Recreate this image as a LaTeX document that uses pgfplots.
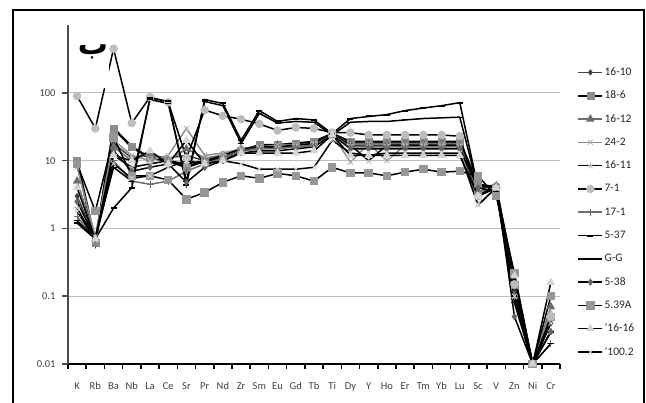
\documentclass[border=0pt]{standalone}
\usepackage{fontspec}
\setmainfont{Carlito}
\newfontfamily\arabicfont[Script=Arabic]{DejaVu Sans}
\usepackage{pgfplots}
\usepackage{pgfplotstable}
\pgfplotsset{compat=1.18}
\TeXXeTstate=1

% columns: 16-10, 18-6, 16-12, 24-2, 16-11, 7-1, 17-1, 5-37, G-G, 5-38, 5.39A, '16-16, '100.2
\pgfplotstableread{
x  sa   sb   sc   sd   se   sf   sg   sh   si   sj   sk   sl   sm
0  3    10   5    8    2    90   1.5  1.2  1.3  2.5  9    4    1.8
1  0.7  0.62 0.7  0.75 0.68 30   0.7  0.7  0.72 0.7  1.8  0.7  0.68
2  18   30   16   20   12   450  10   2    8    14   22   12   9
3  11   16   10   12   8    36   5    4    5    7    6    10   5.5
4  12   11   13   10   9    87   4.5  85   80   8    6    14   6
5  11   10   10   12   10   73   5    75   70   9    5.2  9    8
6  12   8    15   30   9    11   7    4.4  5    4.8  2.7  20   10
7  10   10   11   12   10   56   9    80   75   8    3.4  9    9
8  11   11   12   13   12   46   11   70   65   10   4.8  10   10
9  14   14   15   15   15   41   14   20   18   13   6    13   9
10 15   17   16   16   16   35   15   55   50   14   5.5  13   7.5
11 16   17   17   17   16   28   15   38   36   14   6.5  13   7.5
12 16   18   17   17   17   31   16   42   38   15   6    13   7.5
13 17   19   18   18   18   30   17   40   37   16   5    14   8
14 24   25   24   25   25   26   24   25   24   24   8    24   20
15 17   19   18   9.5  17   26   16   42   37   15   6.6  12   13
16 17   19   18   18   10   24   16   45   38   15   6.6  12   12
17 17   19   18   10   17   24   16   48   38   15   6    12   13
18 17   19   18   17   17   24   16   55   40   15   6.8  12   13
19 17   19   18   17   17   24   16   60   42   15   7.5  12   13
20 17   19   18   17   17   24   16   65   43   15   6.8  12   13
21 17   19   18   17   17   23   16   72   44   15   7    12   13
22 4    4.5  3.5  2.3  3    3    3.5  4    4    4    6    3    2.2
23 4.2  4    4    4    4.5  4    4    3.5  3.5  4.4  3    4    4
24 0.12 0.15 0.1  0.2  0.1  0.15 0.1  0.1  0.08 0.05 0.22 0.2  0.1
25 0.01 0.01 0.01 0.01 0.01 0.01 0.01 0.01 0.01 0.01 0.01 0.01 0.01
26 0.04 0.05 0.07 0.06 0.03 0.05 0.02 0.03 0.02 0.03 0.1  0.16 0.04
}\spider

\definecolor{gA}{HTML}{3F3F3F}
\definecolor{gB}{HTML}{8C8C8C}
\definecolor{gC}{HTML}{6E6E6E}
\definecolor{gD}{HTML}{B5B5B5}
\definecolor{gE}{HTML}{BDBDBD}
\definecolor{gF}{HTML}{D4D4D4}

\begin{document}
\begin{tikzpicture}
\begin{axis}[
    at={(0pt,0pt)}, anchor=south west,
    scale only axis, width=492pt, height=338.75pt,
    ymode=log, ymin=0.01, ymax=1000,
    xmin=-0.5, xmax=26.5,
    axis lines*=left,
    x axis line style={black, line width=2pt},
    y axis line style={black!70, line width=2pt},
    xtick={0,...,26},
    xticklabels={K,Rb,Ba,Nb,La,Ce,Sr,Pr,Nd,Zr,Sm,Eu,Gd,Tb,Ti,Dy,Y,Ho,Er,Tm,Yb,Lu,Sc,V,Zn,Ni,Cr},
    major x tick style={draw=none},
    minor xtick={-0.5,0.5,...,26.5},
    minor x tick style={black, line width=1.5pt},
    minor tick length=5pt,
    ytick={0.01,0.1,1,10,100},
    yticklabels={0.01,0.1,1,10,100},
    yminorticks=false,
    y tick style={black!70, line width=1.5pt},
    major tick length=6pt,
    tick align=outside,
    ymajorgrids,
    major grid style={black!25, line width=1pt},
    ticklabel style={font=\fontsize{10.5}{12}\selectfont, text=black!75},
    xticklabel style={yshift=-9pt},
    yticklabel style={xshift=-3pt},
    legend style={draw=none, fill=none, at={(1,1)}, anchor=north west,
        xshift=14pt, yshift=-39pt, row sep=11.3pt,
        font=\fontsize{11.5}{13}\selectfont, text=black!85,
        nodes={inner sep=1pt, text height=8pt, text depth=2pt}},
    legend cell align=left,
    legend image code/.code={\draw[mark repeat=2,mark phase=2,#1] plot coordinates {(0pt,0pt) (12pt,0pt) (24pt,0pt)};},
    every axis plot/.append style={line width=1.5pt},
]
\addplot[gA, mark=diamond*, mark size=2pt] table[x=x, y=sa] {\spider};
\addplot[black, line width=2.4pt, mark=square*, mark size=3.5pt, mark options={fill=gB, draw=gB, line width=0.5pt}] table[x=x, y=sb] {\spider};
\addplot[gC, mark=triangle*, mark size=3.5pt] table[x=x, y=sc] {\spider};
\addplot[gB, mark=x, mark size=3.5pt, mark options={draw=gD, line width=0.8pt}] table[x=x, y=sd] {\spider};
\addplot[black, mark=star, mark size=3.5pt, mark options={draw=gD, line width=0.8pt}] table[x=x, y=se] {\spider};
\addplot[black, mark=*, mark size=3.5pt, mark options={fill=gE, draw=gE}] table[x=x, y=sf] {\spider};
\addplot[gC, mark=+, mark size=3.5pt, mark options={line width=0.8pt}] table[x=x, y=sg] {\spider};
\addplot[black, mark=-, mark size=3pt, mark options={line width=2pt}] table[x=x, y=sh] {\spider};
\addplot[black, mark=-, mark size=3pt, mark options={line width=1pt}] table[x=x, y=si] {\spider};
\addplot[black, mark=diamond*, mark size=2.5pt, mark options={fill=gA!80, draw=gA!80}] table[x=x, y=sj] {\spider};
\addplot[black, mark=square*, mark size=3.5pt, mark options={fill=gB!90, draw=gB!90}] table[x=x, y=sk] {\spider};
\addplot[black, mark=triangle*, mark size=3.5pt, mark options={fill=gF, draw=gF}] table[x=x, y=sl] {\spider};
\addplot[black, mark=x, mark size=3.5pt, mark options={draw=gF, line width=0.8pt}] table[x=x, y=sm] {\spider};
\legend{16-10,18-6,16-12,24-2,16-11,7-1,17-1,5-37,G-G,5-38,5.39A,'16-16,'100.2}
\end{axis}
\fill[white] (10pt,276pt) rectangle (41pt,329pt);
\node[inner sep=0pt] at (25pt,312pt) {\fontsize{30}{34}\selectfont\arabicfont\bfseries\beginR ب\endR};
\draw[line width=1.3pt] (-55pt,-39pt) -- (-55pt,354pt) -- (576pt,354pt) -- (576pt,-39pt);
\pgfresetboundingbox
\useasboundingbox (-68pt,-39pt) rectangle (578pt,364pt);
\end{tikzpicture}
\end{document}
